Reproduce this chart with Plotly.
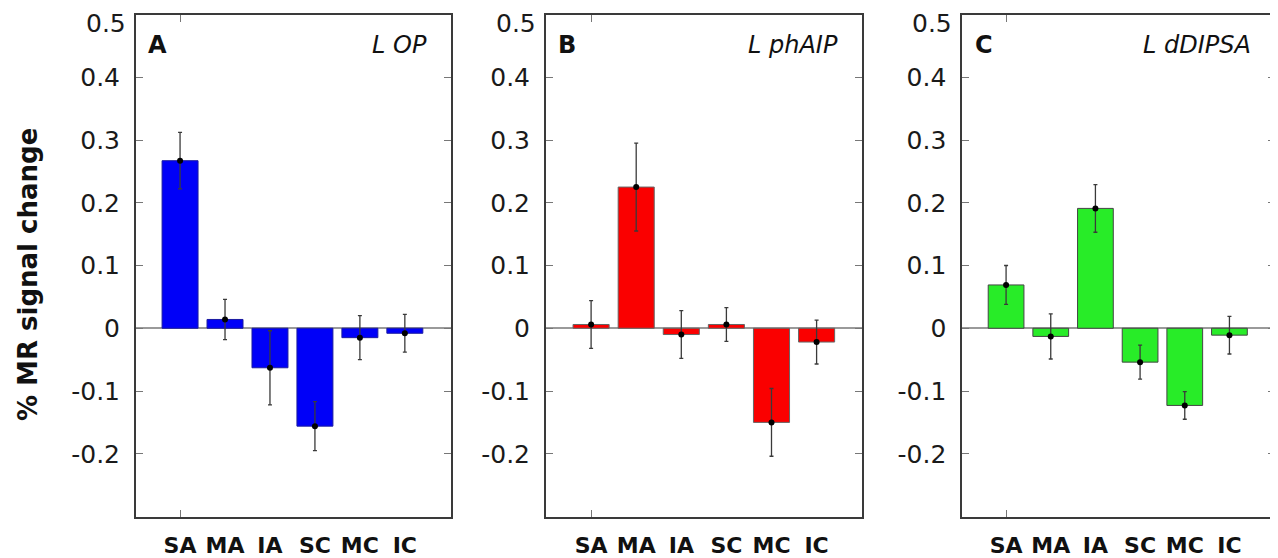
import plotly.graph_objects as go

categories = ["SA", "MA", "IA", "SC", "MC", "IC"]
positions = [1, 2, 3, 4, 5, 6]

op_means = [0.267, 0.014, -0.063, -0.156, -0.015, -0.008]
op_errs = [0.045, 0.032, 0.059, 0.039, 0.035, 0.030]

phaip_means = [0.006, 0.225, -0.010, 0.006, -0.150, -0.022]
phaip_errs = [0.038, 0.070, 0.038, 0.027, 0.054, 0.035]

ddipsa_means = [0.069, -0.013, 0.191, -0.054, -0.123, -0.011]
ddipsa_errs = [0.031, 0.036, 0.038, 0.027, 0.022, 0.030]

panel_letters = ["A", "B", "C"]
panel_titles = ["L OP", "L phAIP", "L dDIPSA"]
y_ticks = [-0.2, -0.1, 0, 0.1, 0.2, 0.3, 0.4, 0.5]
y_ticktext = ["-0.2", "-0.1", "0", "0.1", "0.2", "0.3", "0.4", "0.5"]

# page body has an 8px margin; size the figure so it fits the 1278x558 window
OFF = 8
W, H = 1278 - OFF, 558 - OFF


def fx(px):
    return (px - OFF) / W


def fy(py):
    return 1 - (py - OFF) / H


panels = [
    dict(means=op_means, errs=op_errs, color="#0000f8", line="#1a1aa0",
         px=(136, 450.7), xr=[0.02, 7.02]),
    dict(means=phaip_means, errs=phaip_errs, color="#fa0000", line="#666666",
         px=(546, 861.7), xr=[0.0, 7.0]),
    dict(means=ddipsa_means, errs=ddipsa_errs, color="#28ec28", line="#444444",
         px=(962.3, 1275), xr=[0.02, 7.02]),
]
ydom = [fy(516.5), fy(14.5)]

fig = go.Figure()
FONT = "DejaVu Sans"
TICKFONT = dict(family=FONT, size=25, color="#1a1a1a")

# the top tick label sits a little below its tick in the original
shown_ticktext = y_ticktext[:-1] + [""]

for i, p in enumerate(panels):
    n = i + 1
    xa = "x" if n == 1 else f"x{n}"
    ya = "y" if n == 1 else f"y{n}"
    fig.add_trace(go.Bar(
        x=positions, y=p["means"], width=0.8,
        marker=dict(color=p["color"], line=dict(color=p["line"], width=1)),
        xaxis=xa, yaxis=ya, showlegend=False,
    ))
    fig.add_trace(go.Scatter(
        x=positions, y=p["means"], mode="markers",
        marker=dict(color="black", size=6),
        error_y=dict(type="data", array=p["errs"], visible=True,
                     color="#3a3a3a", thickness=1.3, width=2),
        xaxis=xa, yaxis=ya, showlegend=False,
    ))
    ov = f"x{n + 3}"
    fig.add_trace(go.Scatter(x=[positions[0]], y=[None], mode="markers",
                             xaxis=ov, yaxis=ya, showlegend=False,
                             hoverinfo="skip"))
    dom = [fx(p["px"][0]), fx(p["px"][1])]
    xkey = "xaxis" if n == 1 else f"xaxis{n}"
    ykey = "yaxis" if n == 1 else f"yaxis{n}"
    fig.layout[xkey] = dict(
        domain=dom, anchor=ya, range=p["xr"], automargin=False,
        tickvals=positions, ticktext=categories, ticks="",
        showline=True, linecolor="#3a3a3a", linewidth=2, mirror=True,
        showgrid=False, zeroline=False, fixedrange=True,
        tickfont=dict(family=FONT, size=22, color="#111", weight="bold"),
        ticklabelstandoff=8, ticklabeloverflow="allow",
    )
    fig.layout[ykey] = dict(
        domain=ydom, anchor=xa, range=[-0.3, 0.5], automargin=False,
        tickvals=y_ticks, ticktext=shown_ticktext,
        ticks="inside", ticklen=7, tickwidth=1, tickcolor="#777",
        showline=True, linecolor="#3a3a3a", linewidth=2, mirror="ticks",
        showgrid=False, zeroline=True, zerolinecolor="#9a9a9a", zerolinewidth=1.5,
        tickfont=TICKFONT,
        ticklabelstandoff=9, ticklabeloverflow="allow",
    )
    fig.layout[f"xaxis{n + 3}"] = dict(
        overlaying=xa, anchor=ya, range=p["xr"], tickvals=[positions[0]],
        automargin=False,
        ticks="inside", ticklen=7, tickwidth=1, tickcolor="#777",
        showticklabels=False, showline=False, mirror="ticks",
        showgrid=False, zeroline=False,
    )
    fig.add_annotation(
        text=y_ticktext[-1], xref=f"{xa} domain", yref=ya,
        x=0, y=y_ticks[-1], xanchor="right", yanchor="middle",
        xshift=-8, yshift=-9, showarrow=False, font=TICKFONT,
    )
    fig.add_annotation(
        text=f"<b>{panel_letters[i]}</b>", xref=f"{xa} domain", yref=f"{ya} domain",
        x=0.033, y=0.94, xanchor="left", yanchor="middle", showarrow=False,
        font=dict(family=FONT, size=24, color="#111"),
    )
    fig.add_annotation(
        text=f"<i>{panel_titles[i]}</i>", xref=f"{xa} domain", yref=f"{ya} domain",
        x=0.93, y=0.94, xanchor="right", yanchor="middle", showarrow=False,
        font=dict(family=FONT, size=24, color="#111"),
    )

fig.add_annotation(
    text="<b>% MR signal change</b>", xref="paper", yref="paper",
    x=fx(28), y=fy(275), xanchor="center", yanchor="middle",
    textangle=-90, showarrow=False,
    font=dict(family=FONT, size=26, color="#111"),
)

fig.update_layout(
    template="none",
    width=W, height=H, margin=dict(l=0, r=0, t=0, b=0, autoexpand=False),
    paper_bgcolor="white", plot_bgcolor="white", bargap=0.2,
    showlegend=False,
)

fig.write_html("out.html")
